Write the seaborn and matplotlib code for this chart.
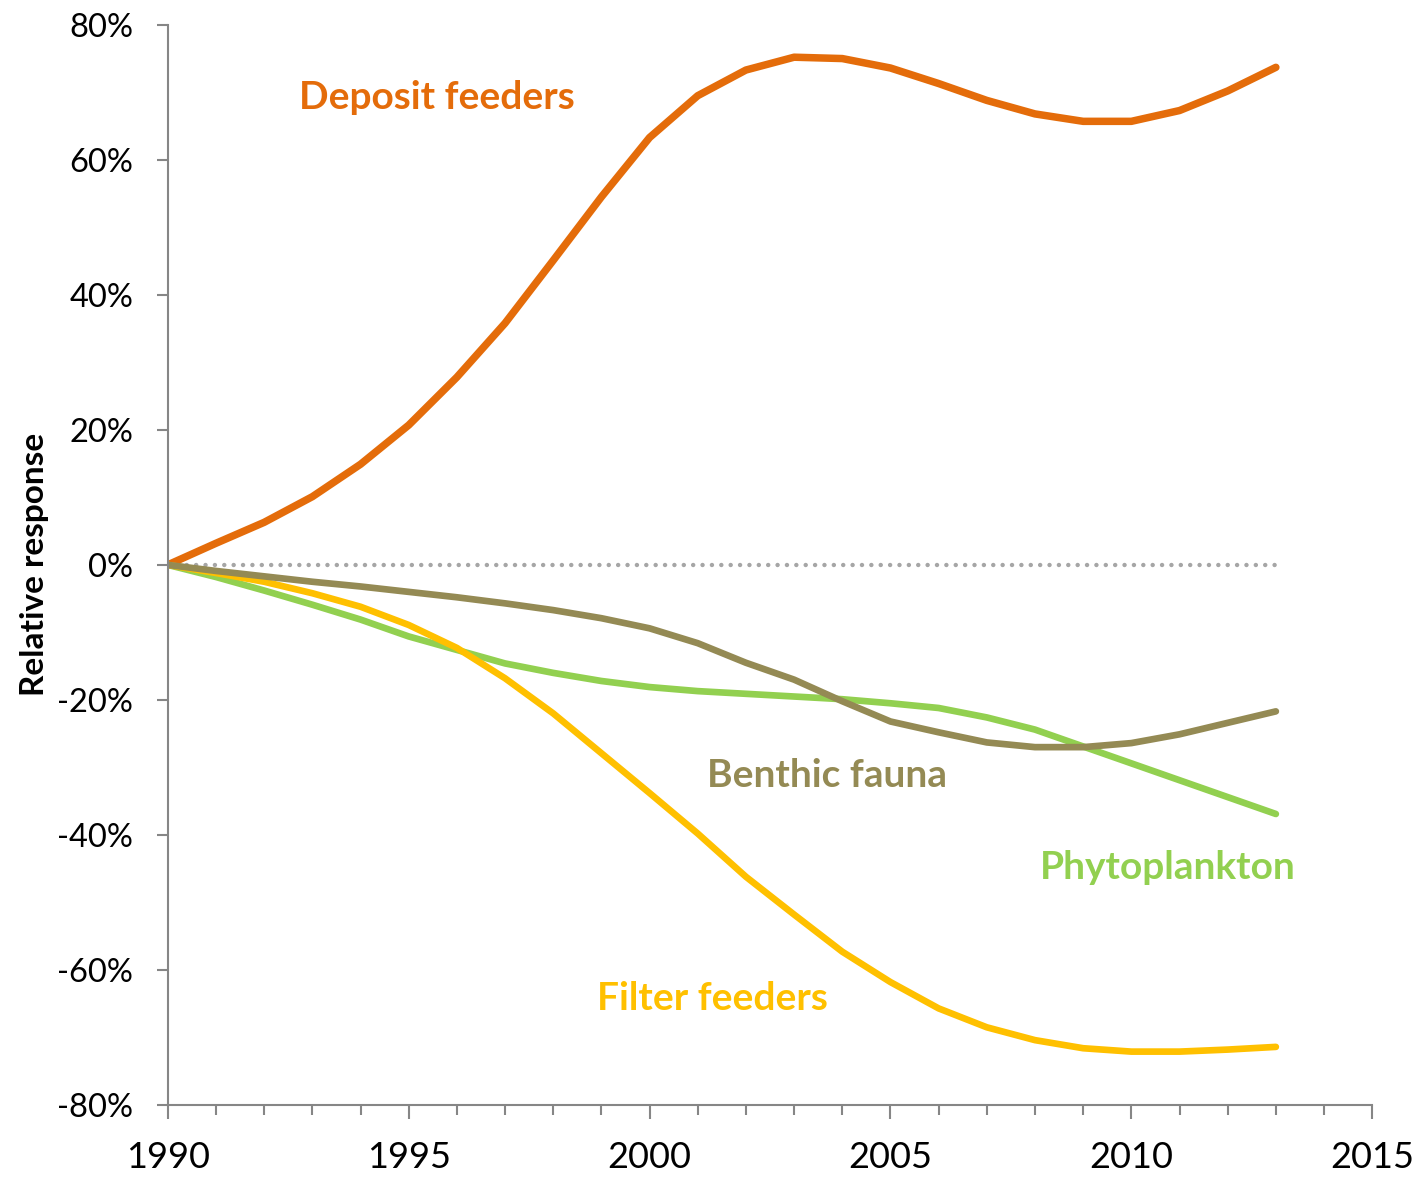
import numpy as np
import pandas as pd
import matplotlib
matplotlib.use("Agg")
import matplotlib.pyplot as plt
from matplotlib.ticker import FuncFormatter, MultipleLocator
import seaborn as sns

sns.set_theme(style="white")
plt.rcParams["font.family"] = ["Lato", "DejaVu Sans"]
plt.rcParams["text.color"] = "black"
plt.rcParams["axes.labelcolor"] = "black"
plt.rcParams["xtick.labelcolor"] = "black"
plt.rcParams["ytick.labelcolor"] = "black"

# Datos (respuesta relativa, %)
years = list(range(1990, 2014))
deposit = [0, 3.2, 6.3, 10.1, 14.9, 20.7, 27.8, 35.8, 45.1, 54.5, 63.3, 69.5, 73.3,
           75.2, 75.0, 73.6, 71.3, 68.8, 66.8, 65.7, 65.7, 67.3, 70.2, 73.7]
filter_f = [0, -1.2, -2.5, -4.2, -6.2, -8.9, -12.3, -16.8, -22.0, -27.9, -33.8, -39.8, -46.2,
            -51.8, -57.3, -61.8, -65.7, -68.5, -70.4, -71.6, -72.1, -72.1, -71.8, -71.4]
phyto = [0, -1.8, -3.8, -5.9, -8.1, -10.6, -12.6, -14.6, -16.0, -17.2, -18.1, -18.7, -19.1,
         -19.5, -19.9, -20.5, -21.2, -22.6, -24.4, -26.9, -29.4, -31.9, -34.4, -36.9]
benthic = [0, -0.9, -1.7, -2.5, -3.2, -4.0, -4.8, -5.7, -6.7, -7.9, -9.4, -11.6, -14.5,
           -17.0, -20.2, -23.2, -24.8, -26.3, -27.0, -27.0, -26.4, -25.1, -23.4, -21.7]
zero = [0] * len(years)

series = ["Deposit feeders", "Filter feeders", "Phytoplankton", "Benthic fauna"]
values = [deposit, filter_f, phyto, benthic]
colores = ["#E46C0A", "#FFC000", "#92D050", "#948A54"]
grosor = [5.4, 4.8, 4.8, 4.8]

df = pd.DataFrame({
    "year": years * len(series),
    "value": np.concatenate(values) / 100,
    "serie": np.repeat(series, len(years)),
})

fig = plt.figure(figsize=(14.22, 11.81), dpi=100)
ax = fig.add_axes([0.118, 0.0644, 0.847, 0.9146])

# linea de cero punteada
sns.lineplot(x=years, y=zero, ax=ax, color="#A6A6A6", linewidth=3.2,
             linestyle=(0, (0.01, 2.1)), dash_capstyle="round")

# orden de dibujo
for nombre, col, lw in zip(["Deposit feeders", "Phytoplankton", "Filter feeders", "Benthic fauna"],
                           [colores[0], colores[2], colores[1], colores[3]],
                           [grosor[0], grosor[2], grosor[1], grosor[3]]):
    sub = df[df["serie"] == nombre]
    sns.lineplot(data=sub, x="year", y="value", ax=ax, color=col, linewidth=lw,
                 solid_capstyle="round", solid_joinstyle="round")

ax.set_xlim(1990, 2015)
ax.set_ylim(-0.8, 0.8)
ax.xaxis.set_major_locator(MultipleLocator(5))
ax.xaxis.set_minor_locator(MultipleLocator(1))
ax.yaxis.set_major_locator(MultipleLocator(0.2))
ax.yaxis.set_major_formatter(FuncFormatter(lambda v, p: f"{v*100:.0f}%"))

for s in ["top", "right"]:
    ax.spines[s].set_visible(False)
for s in ["left", "bottom"]:
    ax.spines[s].set_color("#868686")
    ax.spines[s].set_linewidth(1.5)

ax.tick_params(axis="x", which="major", direction="out", length=10, width=1.5,
               color="#868686", labelsize=26, pad=16, bottom=True)
ax.tick_params(axis="x", which="minor", direction="out", length=7, width=1.5,
               color="#868686", bottom=True)
ax.tick_params(axis="y", which="major", direction="out", length=8, width=1.5,
               color="#868686", labelsize=23.5, pad=17, left=True)

ax.set_xlabel("")
ax.set_ylabel("Relative response", fontsize=24, fontweight="bold", labelpad=6)
ax.grid(False)

# etiquetas de las series
etiquetas = [("Deposit feeders", 1992.72, 0.693, colores[0]),
             ("Benthic fauna", 2001.2, -0.312, colores[3]),
             ("Phytoplankton", 2008.1, -0.448, colores[2]),
             ("Filter feeders", 1998.9, -0.642, colores[1])]
for txt, x, y, c in etiquetas:
    ax.text(x, y, txt, color=c, fontsize=28, fontweight="bold", va="center", ha="left")

fig.savefig("out.png", dpi=100)
